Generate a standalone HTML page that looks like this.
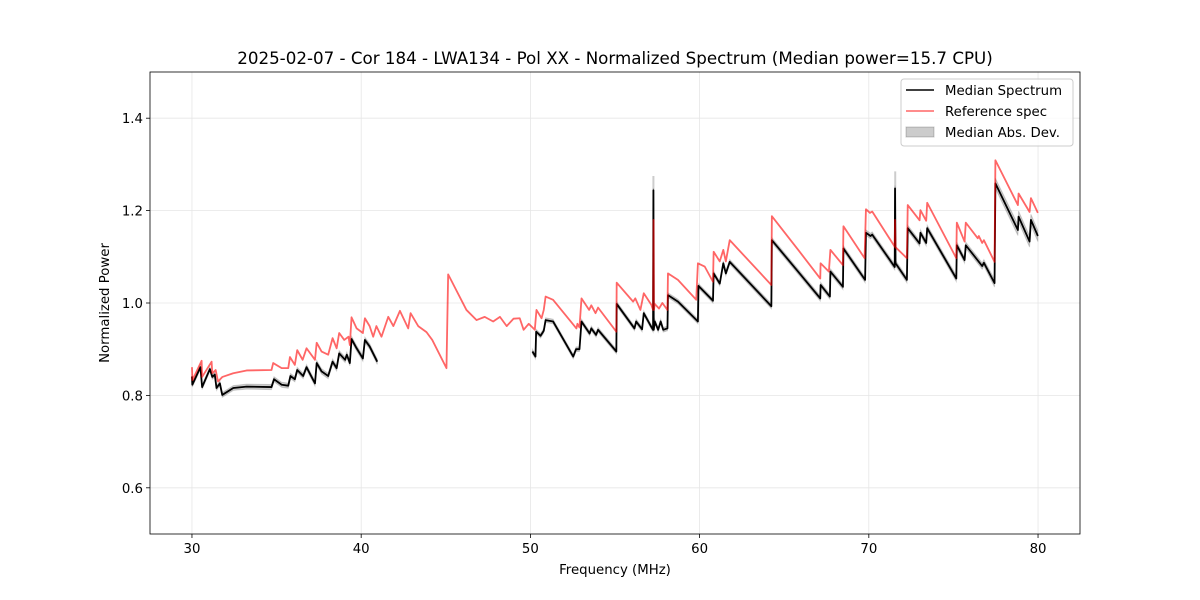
<!DOCTYPE html>
<html><head><meta charset="utf-8"><style>
body{margin:0;background:#fff;}
svg{display:block;font-family:"DejaVu Sans","Liberation Sans",sans-serif;}
</style></head><body>
<svg id="chart" width="1200" height="600" xmlns="http://www.w3.org/2000/svg">
<rect width="1200" height="600" fill="#fff"/>
<text x="615" y="64" font-size="16.7" text-anchor="middle">2025-02-07 - Cor 184 - LWA134 - Pol XX - Normalized Spectrum (Median power=15.7 CPU)</text>
<g id="grid"></g><g id="marks"></g><g id="axes"></g>
<text x="615" y="574" font-size="13.3" text-anchor="middle">Frequency (MHz)</text>
<text x="109" y="303" font-size="13.3" text-anchor="middle" transform="rotate(-90 109 303)">Normalized Power</text>
<g>
<rect x="901" y="79" width="172" height="67" rx="3" fill="#fff" fill-opacity="0.8" stroke="#ccc"/>
<line x1="906" y1="90" x2="934" y2="90" stroke="#000" stroke-width="1.5"/>
<text x="945" y="95" font-size="13.3">Median Spectrum</text>
<line x1="906" y1="111" x2="934" y2="111" stroke="rgba(255,0,0,0.6)" stroke-width="1.5"/>
<text x="945" y="116" font-size="13.3">Reference spec</text>
<rect x="906" y="127" width="28" height="10" fill="#000" fill-opacity="0.2" stroke="#000" stroke-opacity="0.2"/>
<text x="945" y="137" font-size="13.3">Median Abs. Dev.</text>
</g>
</svg>
<script>
const xTicks=[30,40,50,60,70,80];
const yTicks=[0.6,0.8,1.0,1.2,1.4];
const refFreq=[30,30.03,30.57,30.6,31.16,31.2,31.4,31.54,31.8,32.44,33.23,34.7,34.8,35.3,35.69,35.79,36.08,36.22,36.54,36.77,37.27,37.37,37.66,38.05,38.31,38.55,38.7,39.0,39.25,39.33,39.43,39.73,40.1,40.22,40.5,40.71,40.9,41.2,41.6,41.9,42.29,42.78,42.92,43.37,43.86,44.2,45.04,45.14,46.22,46.82,47.3,47.8,48.2,48.6,49.0,49.37,49.6,49.9,50.26,50.36,50.66,50.79,50.9,51.34,52.72,52.78,52.9,53.02,53.47,53.6,53.85,54.0,55.08,55.1,56.07,56.2,56.5,56.7,57.15,57.25,57.28,57.3,57.35,57.6,57.8,58.1,58.13,58.72,59.8,59.9,60.3,60.79,60.83,61.19,61.4,61.55,61.78,64.24,64.27,65.91,67.13,67.15,67.64,67.73,68.47,68.5,69.75,69.83,70.07,70.2,71.53,71.55,71.58,71.6,72.25,72.3,73.0,73.05,73.39,73.45,75.17,75.2,75.66,75.73,76.44,76.5,76.7,76.8,77.43,77.48,78.81,78.85,79.5,79.58,79.99];
const refVal=[0.861,0.833,0.875,0.84,0.873,0.848,0.855,0.83,0.84,0.848,0.854,0.855,0.87,0.859,0.859,0.883,0.866,0.898,0.877,0.902,0.877,0.914,0.895,0.888,0.924,0.902,0.935,0.92,0.927,0.909,0.969,0.945,0.935,0.967,0.95,0.927,0.95,0.927,0.97,0.95,0.983,0.945,0.978,0.95,0.937,0.92,0.859,1.062,0.985,0.963,0.97,0.96,0.97,0.95,0.966,0.967,0.942,0.955,0.942,0.985,0.967,0.985,1.014,1.007,0.945,0.955,0.947,1.01,0.985,0.995,0.978,0.99,0.938,1.044,1.003,1.01,0.985,1.021,0.996,0.985,1.18,0.985,0.998,0.988,1.0,0.985,1.064,1.05,1.007,1.086,1.079,1.046,1.111,1.09,1.115,1.09,1.136,1.039,1.188,1.111,1.053,1.086,1.068,1.115,1.082,1.166,1.097,1.203,1.195,1.198,1.122,1.18,1.12,1.12,1.097,1.212,1.179,1.201,1.178,1.217,1.097,1.174,1.133,1.174,1.14,1.145,1.13,1.136,1.089,1.309,1.212,1.237,1.197,1.227,1.195];
const medFreqA=[30,30.02,30.5,30.6,31.06,31.2,31.35,31.45,31.65,31.79,32.44,33.23,34.7,34.85,35.3,35.69,35.82,36.08,36.22,36.57,36.77,37.27,37.37,37.66,38.05,38.31,38.55,38.7,39.05,39.15,39.33,39.43,39.73,40.1,40.22,40.5,40.95];
const medValA=[0.841,0.823,0.861,0.818,0.857,0.84,0.845,0.816,0.826,0.801,0.816,0.819,0.818,0.835,0.823,0.821,0.842,0.835,0.855,0.842,0.861,0.826,0.87,0.852,0.842,0.873,0.859,0.891,0.877,0.888,0.87,0.922,0.902,0.88,0.92,0.906,0.873];
const medFreqB=[50.12,50.3,50.34,50.6,50.79,50.9,51.34,52.53,52.7,52.9,53.02,53.5,53.6,53.88,54.0,55.08,55.1,56.15,56.25,56.6,56.7,57.15,57.25,57.27,57.29,57.35,57.55,57.7,57.85,58.1,58.13,58.72,59.9,59.93,60.79,60.83,61.19,61.4,61.55,61.78,64.24,64.27,65.91,67.13,67.15,67.7,67.73,68.47,68.5,69.78,69.83,70.1,70.2,71.53,71.55,71.58,71.6,72.25,72.3,73.0,73.05,73.39,73.45,75.17,75.2,75.66,75.73,76.7,76.8,77.43,77.48,78.81,78.85,79.5,79.58,79.99];
const medValB=[0.895,0.884,0.938,0.929,0.94,0.963,0.96,0.884,0.9,0.9,0.96,0.934,0.945,0.931,0.942,0.895,0.998,0.945,0.96,0.943,0.978,0.948,0.942,1.244,0.942,0.96,0.942,0.96,0.942,0.945,1.017,1.003,0.96,1.037,1.005,1.064,1.042,1.086,1.064,1.089,0.993,1.136,1.064,1.01,1.039,1.014,1.068,1.035,1.118,1.05,1.152,1.145,1.148,1.078,1.248,1.085,1.085,1.05,1.162,1.129,1.152,1.13,1.162,1.053,1.125,1.093,1.125,1.08,1.087,1.043,1.259,1.158,1.187,1.133,1.18,1.145];
const madFreq=[30,40,50,60,70,77.4,77.5,80];
const madVal=[0.005,0.006,0.005,0.005,0.006,0.007,0.012,0.012];
const spikeFreq=[57.27,71.56];
const spikeTop=[1.275,1.285];

const L=150,R=1080,T=72,B=534,X0=27.52,X1=82.48,Y0=0.5,Y1=1.5;
const sx=f=>L+(f-X0)/(X1-X0)*(R-L);
const sy=v=>B-(v-Y0)/(Y1-Y0)*(B-T);
const NS='http://www.w3.org/2000/svg';
function mk(tag,parent,attrs){const e=document.createElementNS(NS,tag);for(const k in attrs)e.setAttribute(k,attrs[k]);parent.appendChild(e);return e;}
const grid=document.getElementById('grid'),marks=document.getElementById('marks'),axes=document.getElementById('axes');
xTicks.forEach(t=>{const g=mk('line',grid,{x1:sx(t),x2:sx(t),y1:T,y2:B,stroke:'#e6e6e6','stroke-width':0.8});


mk('line',axes,{x1:sx(t),x2:sx(t),y1:B,y2:B+4,stroke:'#000','stroke-width':0.8});
const tx=mk('text',axes,{x:sx(t),y:B+19,'font-size':13.3,'text-anchor':'middle'});tx.textContent=t;

});
yTicks.forEach(t=>{const g=mk('line',grid,{x1:L,x2:R,y1:sy(t),y2:sy(t),stroke:'#e6e6e6','stroke-width':0.8});


mk('line',axes,{x1:L-4,x2:L,y1:sy(t),y2:sy(t),stroke:'#000','stroke-width':0.8});
const tx=mk('text',axes,{x:L-7,y:sy(t)+5,'font-size':13.3,'text-anchor':'end'});tx.textContent=t.toFixed(1);

});
const fr=mk('rect',axes,{x:L,y:T,width:R-L,height:B-T,fill:'none',stroke:'#000','stroke-width':0.8});


function mad(f){for(let i=0;i<madFreq.length-1;i++){if(f<=madFreq[i+1]){const a=(f-madFreq[i])/(madFreq[i+1]-madFreq[i]);return madVal[i]+a*(madVal[i+1]-madVal[i]);}}return madVal[madVal.length-1];}
function band(F,V){let up=F.map((f,i)=>sx(f)+','+sy(V[i]+mad(f)));let dn=F.map((f,i)=>sx(f)+','+sy(V[i]-mad(f))).reverse();
const p=mk('polygon',marks,{points:up.concat(dn).join(' '),fill:'rgba(0,0,0,0.2)',stroke:'rgba(0,0,0,0.15)','stroke-width':1});

}
band(medFreqA,medValA);band(medFreqB,medValB);
spikeFreq.forEach((f,i)=>{const s=mk('line',marks,{x1:sx(f),x2:sx(f),y1:sy(spikeTop[i]),y2:sy(1.1),stroke:'rgba(0,0,0,0.2)','stroke-width':2});

});
function line(F,V,col,name){const p=mk('polyline',marks,{points:F.map((f,i)=>sx(f)+','+sy(V[i])).join(' '),fill:'none',stroke:col,'stroke-width':1.8,'stroke-linejoin':'round'});

}
line(medFreqA,medValA,'#000','median-spectrum-line-low');
line(medFreqB,medValB,'#000','median-spectrum-line-high');
line(refFreq,refVal,'rgba(255,0,0,0.6)','reference-spectrum-line');
</script>
</body></html>
